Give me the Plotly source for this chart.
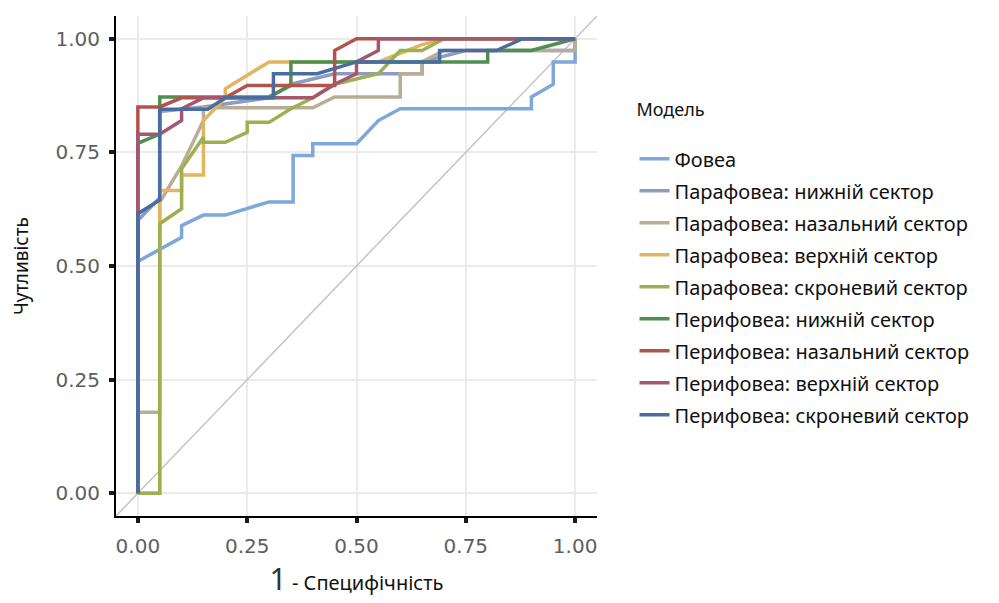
import plotly.graph_objects as go

# ROC curves: false positive rate (1 - specificity) and true positive rate per model
models = [
    "Фовеа",
    "Парафовеа: нижній сектор",
    "Парафовеа: назальний сектор",
    "Парафовеа: верхній сектор",
    "Парафовеа: скроневий сектор",
    "Перифовеа: нижній сектор",
    "Перифовеа: назальний сектор",
    "Перифовеа: верхній сектор",
    "Перифовеа: скроневий сектор",
]

fovea_fpr = [0, 0, 0.10, 0.10, 0.15, 0.20, 0.30, 0.355, 0.355, 0.40, 0.40, 0.50, 0.55, 0.60, 0.90, 0.90, 0.95, 0.95, 1.00, 1.00]
fovea_tpr = [0, 0.51, 0.563, 0.589, 0.612, 0.612, 0.641, 0.641, 0.743, 0.743, 0.769, 0.769, 0.82, 0.846, 0.846, 0.872, 0.90, 0.949, 0.949, 1.00]

para_inf_fpr = [0, 0, 0.05, 0.05, 0.15, 0.30, 0.35, 0.45, 0.65, 0.65, 0.75, 1.00, 1.00]
para_inf_tpr = [0, 0.60, 0.65, 0.84, 0.85, 0.87, 0.90, 0.923, 0.923, 0.949, 0.974, 0.974, 1.00]

para_nas_fpr = [0, 0, 0.05, 0.05, 0.10, 0.15, 0.15, 0.40, 0.45, 0.60, 0.60, 0.65, 0.65, 0.70, 1.00, 1.00]
para_nas_tpr = [0, 0.178, 0.178, 0.64, 0.72, 0.82, 0.848, 0.848, 0.872, 0.872, 0.923, 0.923, 0.949, 0.974, 0.974, 1.00]

para_sup_fpr = [0, 0.05, 0.05, 0.10, 0.10, 0.15, 0.15, 0.20, 0.20, 0.30, 0.45, 0.55, 0.65, 0.70, 1.00]
para_sup_tpr = [0, 0, 0.666, 0.666, 0.70, 0.70, 0.82, 0.87, 0.89, 0.949, 0.949, 0.949, 0.987, 1.00, 1.00]

para_tmp_fpr = [0, 0.05, 0.05, 0.10, 0.10, 0.15, 0.15, 0.20, 0.25, 0.25, 0.30, 0.35, 0.40, 0.45, 0.55, 0.60, 0.65, 0.70, 1.00]
para_tmp_tpr = [0, 0, 0.593, 0.626, 0.714, 0.783, 0.772, 0.772, 0.794, 0.816, 0.816, 0.846, 0.87, 0.90, 0.923, 0.974, 0.974, 1.00, 1.00]

peri_inf_fpr = [0, 0, 0.05, 0.05, 0.10, 0.30, 0.35, 0.35, 0.80, 0.80, 0.90, 1.00]
peri_inf_tpr = [0, 0.77, 0.79, 0.872, 0.872, 0.872, 0.897, 0.949, 0.949, 0.974, 0.974, 1.00]

peri_nas_fpr = [0, 0, 0.05, 0.10, 0.20, 0.25, 0.45, 0.45, 0.50, 1.00]
peri_nas_tpr = [0, 0.85, 0.85, 0.87, 0.87, 0.897, 0.897, 0.974, 1.00, 1.00]

peri_sup_fpr = [0, 0, 0.05, 0.10, 0.10, 0.15, 0.40, 0.45, 0.50, 0.50, 0.55, 0.55, 1.00]
peri_sup_tpr = [0, 0.79, 0.79, 0.82, 0.846, 0.87, 0.87, 0.90, 0.923, 0.949, 0.974, 1.00, 1.00]

peri_tmp_fpr = [0, 0, 0.05, 0.05, 0.16, 0.20, 0.31, 0.31, 0.41, 0.50, 0.69, 0.69, 0.82, 0.88, 1.00]
peri_tmp_tpr = [0, 0.615, 0.645, 0.845, 0.845, 0.87, 0.87, 0.923, 0.923, 0.949, 0.949, 0.974, 0.974, 1.00, 1.00]

series_fpr = [fovea_fpr, para_inf_fpr, para_nas_fpr, para_sup_fpr, para_tmp_fpr,
              peri_inf_fpr, peri_nas_fpr, peri_sup_fpr, peri_tmp_fpr]
series_tpr = [fovea_tpr, para_inf_tpr, para_nas_tpr, para_sup_tpr, para_tmp_tpr,
              peri_inf_tpr, peri_nas_tpr, peri_sup_tpr, peri_tmp_tpr]

colors = ["#7ea7da", "#8f9cc2", "#b9ad95", "#e2b65f", "#9cb052",
          "#4f8f50", "#b0544c", "#a3586f", "#4a6d9f"]

ticks = [0, 0.25, 0.5, 0.75, 1.0]
tick_text = ["0.00", "0.25", "0.50", "0.75", "1.00"]

fig = go.Figure()

# chance diagonal
fig.add_trace(go.Scatter(
    x=[-0.05, 1.05], y=[-0.05, 1.05], mode="lines",
    line=dict(color="#c4c4c4", width=1.5), showlegend=False, hoverinfo="skip",
))

for name, fx, ty, col in zip(models, series_fpr, series_tpr, colors):
    fig.add_trace(go.Scatter(
        x=fx, y=ty, mode="lines", name=name, legendgroup=name,
        line=dict(color=col, width=3.5),
    ))

axis_common = dict(
    range=[-0.05, 1.05], tickvals=ticks, ticktext=tick_text,
    showgrid=True, gridcolor="#ebebeb", gridwidth=1.5, zeroline=False,
    showline=True, linecolor="black", linewidth=2,
    ticks="outside", ticklen=5, tickwidth=4, tickcolor="#1a1a1a",
    tickfont=dict(family="DejaVu Sans", size=20, color="#5e5e5e"),
)

fig.update_xaxes(
    **axis_common, ticklabelstandoff=6,
    title=dict(text='<span style="font-size:30px;color:#333">1</span> - Специфічність',
               font=dict(family="Noto Sans", size=20, color="#111"), standoff=12),
)
fig.update_yaxes(
    **axis_common, ticklabelstandoff=5,
    title=dict(text="Чутливість", font=dict(family="Noto Sans", size=19, color="#111"), standoff=22),
)

fig.update_layout(
    width=999, height=603,
    margin=dict(l=116, r=402, t=16, b=87),
    plot_bgcolor="white", paper_bgcolor="white",
    legend=dict(
        title=dict(text="Модель<br> ", font=dict(family="Noto Sans", size=18, color="#111")),
        font=dict(family="Noto Sans", size=20, color="#111"),
        x=1.078, xanchor="left", y=0.847, yanchor="top",
        tracegroupgap=3, itemwidth=30,
    ),
)

fig.write_html("out.html")
